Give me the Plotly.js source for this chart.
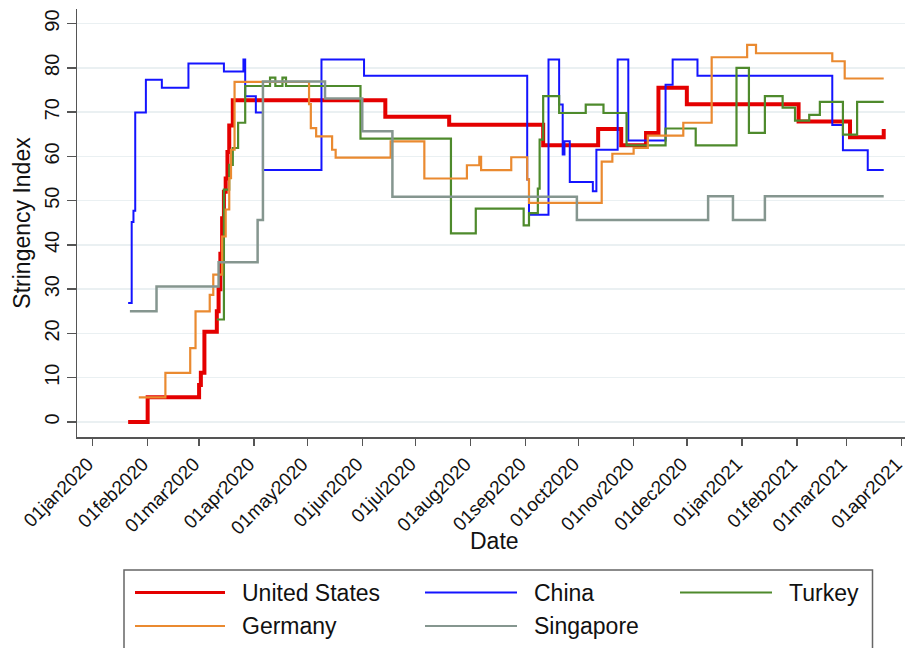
<!DOCTYPE html>
<html><head><meta charset="utf-8">
<script src="https://cdn.plot.ly/plotly-3.0.1.min.js"></script>
<style>html,body{margin:0;padding:0;background:#fff}</style>
</head><body>
<div id="chart" style="width:905px;height:648px"></div>
<script>
// ---- data (step change points) ----
const countries = ['United States', 'China', 'Turkey', 'Germany', 'Singapore'];

const usDates = ['2020-01-21','2020-02-01','2020-03-01','2020-03-02','2020-03-04','2020-03-11','2020-03-12','2020-03-13','2020-03-14','2020-03-15','2020-03-16','2020-03-17','2020-03-18','2020-03-20','2020-06-14','2020-07-20','2020-09-11','2020-10-12','2020-10-25','2020-11-08','2020-11-15','2020-12-01','2021-02-02','2021-03-03','2021-03-22'];
const usValues = [0,5.56,8.33,11.11,20.37,25,30,38,46,52,55,61,67,72.69,68.98,67.13,62.5,66.2,62.5,65.3,75.5,71.76,67.9,64.35,66.2];

const chinaDates = ['2020-01-21','2020-01-23','2020-01-24','2020-01-25','2020-01-31','2020-02-09','2020-02-24','2020-03-15','2020-03-26','2020-03-27','2020-04-02','2020-04-06','2020-05-09','2020-06-02','2020-09-02','2020-09-03','2020-09-14','2020-09-20','2020-09-22','2020-09-23','2020-09-26','2020-10-09','2020-10-11','2020-10-23','2020-10-29','2020-11-19','2020-11-23','2020-12-07','2021-02-21','2021-02-27','2021-03-13','2021-03-22'];
const chinaValues = [26.85,45.2,47.7,69.9,77.3,75.5,81.0,79.2,81.9,73.6,69.9,56.9,81.9,78.2,54.8,46.8,81.9,71.7,60.4,63.4,54.2,52.1,61.5,81.9,63.6,76.2,81.9,78.2,67.1,61.4,56.9,56.9];

const turkeyDates = ['2020-03-11','2020-03-15','2020-03-18','2020-03-20','2020-03-23','2020-03-27','2020-04-10','2020-04-13','2020-04-17','2020-04-19','2020-05-31','2020-07-21','2020-08-04','2020-08-31','2020-09-03','2020-09-08','2020-09-09','2020-09-11','2020-09-20','2020-10-05','2020-10-15','2020-10-28','2020-11-19','2020-12-06','2020-12-29','2021-01-05','2021-01-14','2021-01-24','2021-01-31','2021-02-08','2021-02-14','2021-02-27','2021-03-07','2021-03-22'];
const turkeyValues = [23.15,52.5,58.1,61.9,67.6,75.9,77.8,75.9,77.8,75.9,64.0,42.6,48.2,44.4,47.2,52.7,63.8,73.6,69.8,71.7,69.8,62.5,66.3,62.5,80.0,65.3,73.6,71.0,68.1,69.4,72.3,64.9,72.3,72.3];

const germanyDates = ['2020-01-27','2020-02-11','2020-02-25','2020-02-28','2020-03-07','2020-03-09','2020-03-14','2020-03-16','2020-03-18','2020-03-19','2020-03-21','2020-05-02','2020-05-03','2020-05-06','2020-05-15','2020-05-17','2020-06-17','2020-07-06','2020-07-30','2020-08-06','2020-08-07','2020-08-24','2020-09-02','2020-09-03','2020-10-14','2020-10-20','2020-11-01','2020-11-09','2020-11-29','2020-12-15','2021-01-04','2021-01-09','2021-02-21','2021-02-28','2021-03-22'];
const germanyValues = [5.56,11.11,16.67,25,28.7,33.3,41.9,48,55.1,61.5,76.85,71.8,66.4,64.5,61.5,59.7,63.4,55.0,58.0,59.9,56.9,59.8,54.8,49.5,58.8,60.6,61.9,64.7,67.6,82.4,85.2,83.3,81.5,77.6,77.6];

const singaporeDates = ['2020-01-22','2020-02-06','2020-03-12','2020-04-03','2020-04-06','2020-05-11','2020-06-01','2020-06-18','2020-09-30','2020-12-13','2020-12-27','2021-01-14','2021-03-22'];
const singaporeValues = [25,30.6,36.1,45.6,76.9,73.1,65.7,50.9,45.6,51.0,45.6,51.0,51.0];

const tickDates = ['2020-01-01','2020-02-01','2020-03-01','2020-04-01','2020-05-01','2020-06-01','2020-07-01','2020-08-01','2020-09-01','2020-10-01','2020-11-01','2020-12-01','2021-01-01','2021-02-01','2021-03-01','2021-04-01'];
const tickLabels = ['01jan2020','01feb2020','01mar2020','01apr2020','01may2020','01jun2020','01jul2020','01aug2020','01sep2020','01oct2020','01nov2020','01dec2020','01jan2021','01feb2021','01mar2021','01apr2021'];
const yTicks = [0,10,20,30,40,50,60,70,80,90];

// ---- styles ----
const colors = {'United States':'#e40000','China':'#1414ff','Turkey':'#4e8a2c','Germany':'#ea8a30','Singapore':'#85968f'};
const widths = {'United States':4,'China':2,'Turkey':2.2,'Germany':2.2,'Singapore':2.5};
const seriesData = {
  'United States':[usDates, usValues],
  'China':[chinaDates, chinaValues],
  'Turkey':[turkeyDates, turkeyValues],
  'Germany':[germanyDates, germanyValues],
  'Singapore':[singaporeDates, singaporeValues]
};

const traces = countries.map(c => ({
  type:'scatter', mode:'lines', name:c,
  x: seriesData[c][0], y: seriesData[c][1],
  line:{color:colors[c], width:widths[c], shape:'hv'},
  showlegend:false, hoverinfo:'skip'
}));

const FONT = 'Liberation Sans, Arial, Helvetica, sans-serif';
const ML = 77, MT = 9, PW = 828, PH = 428;
const px = v => (v - ML) / PW;
const py = v => (MT + PH - v) / PH;

// custom legend (Stata style)
const shapes = [{type:'rect', xref:'paper', yref:'paper', x0:px(124), x1:px(872.5), y0:py(570), y1:py(680),
  line:{color:'#666', width:1.5}, fillcolor:'rgba(0,0,0,0)'}];
const annotations = [];
const legendPos = [
  ['United States',135,225,240,592.5],
  ['China',425,517,532,592.5],
  ['Turkey',680,772,787,592.5],
  ['Germany',135,225,240,626],
  ['Singapore',425,517,532,626]
];
legendPos.forEach(([c,x0,x1,tx,yy]) => {
  shapes.push({type:'line', xref:'paper', yref:'paper', x0:px(x0), x1:px(x1), y0:py(yy), y1:py(yy),
    line:{color:colors[c], width: c==='United States'?3:2}});
  annotations.push({xref:'paper', yref:'paper', x:px(tx), y:py(yy), xanchor:'left', yanchor:'middle',
    text:c, showarrow:false, font:{family:FONT, size:23, color:'#111'}});
});
// x-axis title
annotations.push({xref:'paper', yref:'paper', x:px(494), y:py(541), xanchor:'center', yanchor:'middle',
  text:'Date', showarrow:false, font:{family:FONT, size:23, color:'#111'}});

const layout = {
  width:905, height:648,
  margin:{l:ML, r:905-ML-PW, t:MT, b:648-MT-PH},
  paper_bgcolor:'#fff', plot_bgcolor:'#fff',
  showlegend:false,
  xaxis:{
    type:'date', range:['2019-12-23 04:00','2021-04-03 00:00'],
    tickmode:'array', tickvals:tickDates, ticktext:tickLabels, tickangle:-45,
    ticks:'outside', ticklen:7, tickwidth:1.5, tickcolor:'#555',
    showline:true, linecolor:'#555', linewidth:1.5, showgrid:false, zeroline:false,
    tickfont:{family:FONT, size:19, color:'#111'},
    ticklabeloverflow:'allow', ticklabelshift:-5,
    automargin:false
  },
  yaxis:{
    range:[-3.4, 93.3], tickmode:'array', tickvals:yTicks, ticktext:yTicks.map(String), tickangle:-90,
    ticks:'outside', ticklen:9, tickwidth:1.5, tickcolor:'#555',
    showline:true, linecolor:'#555', linewidth:1.5,
    showgrid:true, gridcolor:'#eaf0f2', gridwidth:1.5, zeroline:false,
    tickfont:{family:FONT, size:20, color:'#111'},
    title:{text:'Stringency Index', font:{family:FONT, size:23, color:'#111'}, standoff:3},
    automargin:false
  },
  shapes:shapes, annotations:annotations
};

Plotly.newPlot('chart', traces, layout, {displayModeBar:false, staticPlot:true});
</script>
</body></html>
